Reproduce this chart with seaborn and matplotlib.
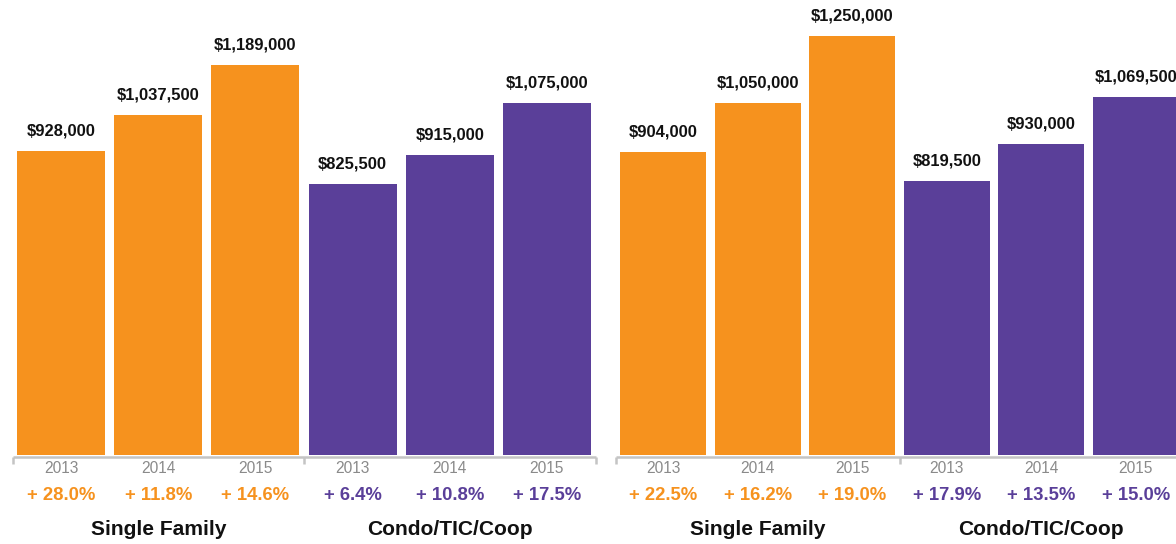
import matplotlib
matplotlib.use("Agg")
import matplotlib.pyplot as plt
import matplotlib.transforms as mtransforms
import seaborn as sns
import pandas as pd

# chart data
years = ["2013", "2014", "2015"]
groups = ["Single Family", "Condo/TIC/Coop"]

left_sf = [928000, 1037500, 1189000]
left_condo = [825500, 915000, 1075000]
left_sf_pct = [28.0, 11.8, 14.6]
left_condo_pct = [6.4, 10.8, 17.5]

right_sf = [904000, 1050000, 1250000]
right_condo = [819500, 930000, 1069500]
right_sf_pct = [22.5, 16.2, 19.0]
right_condo_pct = [17.9, 13.5, 15.0]

orange = "#F6921E"
purple = "#5A3F99"
grey_line = "#C4C4C4"

sns.set_style("white")
plt.rcParams["font.family"] = ["Liberation Sans", "DejaVu Sans"]

W, H = 1176, 544
fig = plt.figure(figsize=(W / 100, H / 100), dpi=100)

PX = 0.72  # points per pixel at 100 dpi


def make_panel(rect, sf, condo, sf_pct, condo_pct, ytop):
    ax = fig.add_axes(rect)
    df = pd.DataFrame({
        "slot": [f"{g} {y}" for g in groups for y in years],
        "value": sf + condo,
        "group": [g for g in groups for _ in years],
    })
    order = list(df["slot"])
    sns.barplot(data=df, x="slot", y="value", hue="group", order=order,
                palette={groups[0]: orange, groups[1]: purple},
                dodge=False, width=0.905, saturation=1, legend=False,
                linewidth=0, ax=ax)
    ax.set_xlim(-0.5, 5.5)
    ax.set_ylim(0, ytop)
    ax.set_xticks([])
    ax.set_yticks([])
    ax.set_xlabel("")
    ax.set_ylabel("")
    for s in ax.spines.values():
        s.set_visible(False)

    trans = mtransforms.blended_transform_factory(ax.transData, ax.transAxes)
    hpx = rect[3] * H
    # bracket under the bars
    ax.plot([-0.5, 5.5], [-1.5 / hpx] * 2, color=grey_line, lw=1.8,
            transform=trans, clip_on=False, solid_capstyle="butt")
    for xb in [-0.5, 2.5, 5.5]:
        ax.plot([xb, xb], [-1.5 / hpx, -8.5 / hpx], color=grey_line, lw=1.8,
                transform=trans, clip_on=False, solid_capstyle="butt")

    pcts = sf_pct + condo_pct
    for i, v in enumerate(sf + condo):
        col = orange if i < 3 else purple
        ax.annotate(f"${v:,.0f}", xy=(i, v), xytext=(0, 20 * PX),
                    textcoords="offset points", ha="center", va="center",
                    fontsize=16.5 * PX, fontweight="bold", color="#111111")
        ax.annotate(years[i % 3], xy=(i, 0), xycoords=trans,
                    xytext=(0, -13.5 * PX), textcoords="offset points",
                    ha="center", va="center", fontsize=15.5 * PX, color="#8A8A8A",
                    annotation_clip=False)
        ax.annotate(f"+ {pcts[i]:.1f}%", xy=(i, 0), xycoords=trans,
                    xytext=(0, -40 * PX), textcoords="offset points",
                    ha="center", va="center", fontsize=18.5 * PX,
                    fontweight="bold", color=col, annotation_clip=False)
    for j, g in enumerate(groups):
        ax.annotate(g, xy=(1 + 3 * j, 0), xycoords=trans,
                    xytext=(0, -74.5 * PX), textcoords="offset points",
                    ha="center", va="center", fontsize=21 * PX,
                    fontweight="bold", color="#111111", annotation_clip=False)
    return ax


make_panel([12.5 / W, 89 / H, 583 / W, 455 / H],
           left_sf, left_condo, left_sf_pct, left_condo_pct, 1388500)
make_panel([616 / W, 89 / H, 567 / W, 455 / H],
           right_sf, right_condo, right_sf_pct, right_condo_pct, 1358600)

fig.savefig("out.png", dpi=100)
